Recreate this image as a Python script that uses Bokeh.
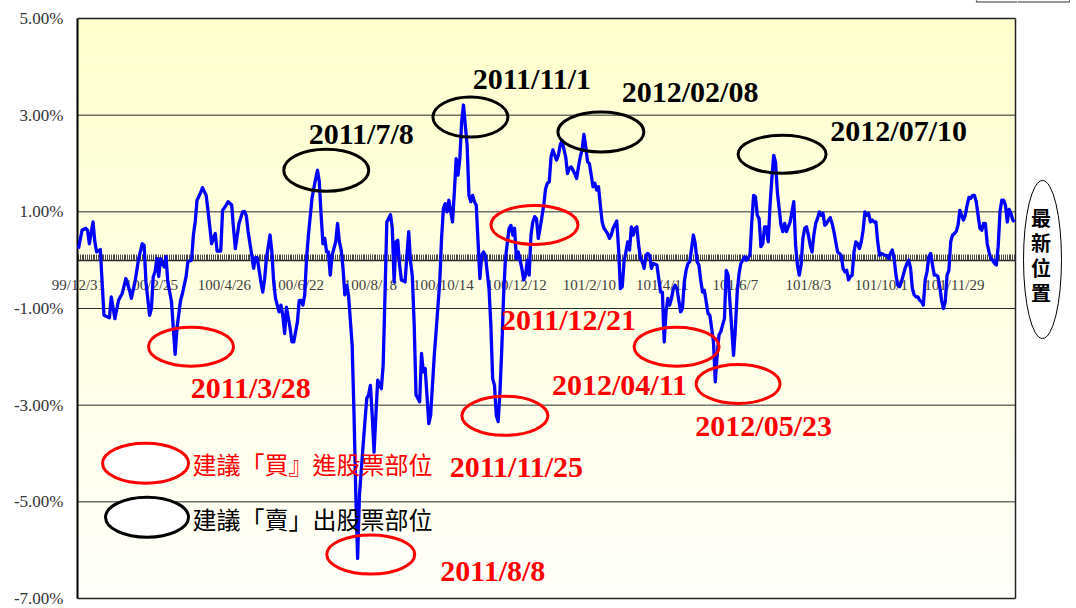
import numpy as np
from bokeh.plotting import figure
from bokeh.models import Range1d, FixedTicker, PrintfTickFormatter
from bokeh.layouts import row
from bokeh.embed import file_html
from bokeh.resources import INLINE
from bokeh.core.properties import value

# ---------------- data (trading-day index, spread in %) ----------------
day_index = [0, 2, 4, 5, 6, 8, 9, 10, 12, 14, 17, 18, 20, 22, 24, 26, 28, 29, 31, 33, 35, 36, 37, 39, 40, 41, 42, 43, 44, 45,
             47, 48, 49, 51, 52, 53, 54, 56, 57, 59, 60, 62, 63, 64, 65, 67, 68, 70, 71, 73, 74, 75, 76, 78, 79, 81, 82, 84, 85, 86,
             88, 90, 91, 92, 93, 95, 96, 97, 98, 100, 101, 102, 103, 105, 106, 107, 108, 110, 111, 112, 113, 114, 116, 117, 118, 120, 121, 122, 123, 124,
             125, 126, 128, 130, 131, 132, 133, 134, 135, 136, 137, 138, 139, 141, 142, 143, 144, 145, 146, 147, 148, 150, 151, 152, 153, 154, 156, 158, 159, 160,
             161, 162, 163, 164, 166, 167, 168, 169, 171, 172, 173, 174, 175, 176, 177, 179, 180, 181, 182, 183, 184, 185, 187, 188, 189, 190, 191, 192, 193, 195,
             196, 198, 199, 200, 201, 202, 203, 205, 206, 207, 208, 209, 210, 211, 213, 214, 215, 216, 217, 218, 219, 220, 221, 222, 223, 225, 226, 227, 228, 229,
             230, 231, 232, 233, 234, 236, 237, 238, 239, 240, 241, 242, 243, 244, 245, 246, 247, 248, 249, 250, 251, 252, 253, 255, 256, 257, 258, 259, 260, 262,
             263, 264, 265, 267, 268, 269, 270, 272, 273, 274, 275, 276, 277, 278, 279, 280, 281, 282, 283, 284, 285, 286, 287, 288, 290, 291, 292, 293, 295, 296,
             297, 298, 299, 300, 301, 302, 303, 304, 305, 306, 307, 308, 309, 310, 311, 312, 313, 314, 315, 317, 318, 319, 320, 321, 322, 323, 324, 325, 326, 327,
             328, 330, 331, 332, 333, 334, 335, 336, 337, 338, 339, 340, 341, 342, 343, 344, 345, 346, 347, 348, 349, 350, 351, 352, 353, 354, 355, 356, 357, 358,
             359, 360, 361, 362, 363, 364, 365, 366, 368, 369, 370, 371, 372, 373, 374, 375, 376, 377, 378, 379, 380, 381, 382, 383, 384, 385, 386, 387, 388, 390,
             391, 392, 393, 394, 395, 396, 397, 398, 399, 400, 401, 402, 403, 404, 405, 406, 407, 408, 409, 410, 411, 412, 413, 414, 415, 416, 417, 418, 419, 420,
             421, 422, 423, 424, 425, 426, 427, 428, 429, 430, 431, 432, 433, 434, 435, 436, 437, 438, 439, 440, 442, 443, 444, 445, 446, 447, 448, 449, 450, 451,
             452, 453, 454, 455, 456, 457, 458, 459, 460, 461, 462, 463, 464, 465, 466, 467, 468, 469, 470, 471, 472, 473, 474, 475, 476, 477, 478, 479, 480, 481,
             482, 483, 484, 485, 486, 487, 488, 489, 490, 491, 492, 493, 494, 495, 496, 497, 498, 499, 500, 501, 502, 503, 504, 505, 506, 507, 508, 509, 510, 511,
             512, 513]
spread_pct = [0.24, 0.62, 0.66, 0.62, 0.34, 0.79, 0.38, 0.17, 0.22, -1.14, -1.19, -0.76, -1.21, -0.83, -0.69, -0.38, -0.62, -0.79, -0.45, 0.03,
              0.34, 0.31, -0.45, -1.14, -1.0, -0.34, -0.24, 0.03, -0.34, 0.03, -0.14, 0.07, -0.45, -0.86, -1.41, -1.95, -1.41, -0.83, -0.69, -0.34,
              -0.03, 0.0, 0.52, 0.79, 1.24, 1.40, 1.50, 1.34, 1.03, 0.34, 0.46, 0.55, 0.19, 0.19, 1.03, 1.14, 1.21, 1.14, 0.66, 0.24,
              0.76, 1.0, 1.01, 0.92, 0.59, 0.10, -0.17, 0.05, 0.05, -0.45, -0.66, -0.41, 0.03, 0.52, 0.17, -0.45, -0.79, -1.07, -0.93, -1.14,
              -1.52, -0.97, -1.41, -1.69, -1.69, -1.28, -0.83, -0.83, -0.93, -0.72,
              0.03, 0.50, 1.28, 1.69, 1.86, 1.62, 0.93, 0.34, 0.45, 0.17, 0.17, -0.31, 0.10, 0.38, 0.76, 0.38, 0.21, -0.17, -0.72, -0.52,
              -0.72, -1.76, -3.14, -4.86, -6.17, -4.86, -3.83, -2.86, -2.79, -2.59,
              -3.21, -3.97, -3.21, -2.48, -2.66, -2.17, -0.72, 0.79, 0.94, 0.66, -0.45, 0.38, 0.41, -0.10, -0.41, -0.45, 0.10, 0.59, -0.03, -0.34,
              -1.34, -2.79, -2.93, -1.93, -2.31, -2.24, -2.79, -3.38, -3.21, -1.97,
              -1.48, -0.45, 0.45, 1.07, 1.17, 1.0, 1.24, 0.79, 1.41, 2.10, 1.76, 2.10, 2.86, 3.21, 2.38, 1.34, 1.21, 1.34, 1.21, 1.14,
              0.38, -0.38, 0.10, 0.17, 0.10, -0.59, -1.34, -2.45, -2.59, -3.21,
              -3.34, -2.72, -1.83, -0.72, 0.03, 0.66, 0.72, 0.52, 0.66, 0.03, 0.17, 0.0, -0.17, -0.41, -0.31, 0.0, -0.31, 0.52, 0.79, 0.90,
              0.86, 0.45, 0.66, 1.14, 1.48, 1.59, 1.62, 2.14, 2.28, 2.07,
              2.17, 2.38, 2.48, 2.14, 1.79, 1.90, 1.93, 1.79, 1.69, 1.93, 2.14, 2.28, 2.60, 2.34, 2.03, 2.00, 1.76, 1.52, 1.59, 1.45,
              1.52, 1.14, 0.79, 0.66, 0.55, 0.45, 0.52, 0.66, 0.81, 0.24,
              -0.59, -0.55, -0.03, 0.17, 0.38, 0.21, 0.69, 0.52, 0.66, 0.69, 0.31, 0.03, -0.03, -0.17, 0.10, 0.14, 0.10, -0.17, -0.07, -0.10,
              -0.38, -0.66, -0.66, -1.69, -1.07, -0.79, -0.93, -0.79, -0.59, -0.52,
              -0.59, -1.07, -1.0, -0.45, -0.21, -0.07, -0.03, 0.24, 0.52, 0.34, -0.03, -0.10, -0.41, -0.66, -0.62, -0.86, -1.10, -1.14, -1.41, -1.69,
              -2.52, -1.97, -1.55, -1.48, -1.34, -1.21, -0.21, -0.31, -0.86, -1.41,
              -1.97, -1.41, -0.66, -0.28, -0.07, 0.0, 0.07, 0.0, 0.10, 0.79, 1.34, 1.31, 0.93, 0.86, 0.28, 0.34, 0.69, 0.69, 0.38, 1.14,
              1.69, 2.17, 2.03, 1.41, 1.07, 0.72, 0.59, 0.76, 0.59, 0.79,
              1.0, 1.21, 0.31, -0.10, -0.31, -0.10, 0.45, 0.66, 0.69, 0.52, 0.31, 0.17, 0.52, 0.76, 0.86, 1.0, 0.93, 0.97, 0.72, 0.76,
              0.83, 0.88, 0.76, 0.59, 0.38, 0.17, 0.14, 0.10, -0.17, -0.24,
              -0.21, -0.41, -0.34, -0.31, 0.17, 0.38, 0.34, 0.24, 0.38, 0.62, 1.0, 0.93, 0.97, 0.79, 0.83, 0.79, 0.79, 0.38, 0.10, 0.14,
              0.10, 0.10, 0.03, 0.14, 0.21, 0.03, -0.31, -0.52, -0.55, -0.45,
              -0.31, -0.17, -0.07, 0.0, -0.17, -0.59, -0.72, -0.76, -0.76, -0.83, -0.86, -0.93, -0.41, -0.24, 0.07, 0.14, -0.10, -0.31, -0.31, -0.34,
              -0.55, -0.83, -1.0, -0.86, -0.31, -0.21, 0.38, 0.52, 0.55, 0.59,
              0.72, 1.03, 0.93, 0.83, 0.93, 1.14, 1.30, 1.28, 1.34, 1.34, 1.21, 0.93, 0.66, 0.62, 0.76, 0.76, 0.34, 0.17, 0.03, 0.0,
              -0.07, -0.10, 0.28, 1.0, 1.24, 1.24, 1.14, 0.79, 1.05, 0.97,
              0.83, 0.79]

N_DAYS = 514
tick_days = [0, 40, 80, 120, 160, 200, 240, 280, 320, 360, 400, 440, 480]
tick_labels = ["99/12/31", "100/2/25", "100/4/26", "100/6/22", "100/8/18", "100/10/14", "100/12/12",
               "101/2/10", "101/4/11", "101/6/7", "101/8/3", "101/10/1", "101/11/29"]
y_ticks = [5, 3, 1, -1, -3, -5, -7]
Y_MIN, Y_MAX = -7, 5

sell_dates = ["2011/7/8", "2011/11/1", "2012/02/08", "2012/07/10"]
buy_dates = ["2011/3/28", "2011/12/21", "2012/04/11", "2012/05/23", "2011/11/25", "2011/8/8"]
legend_texts = ["建議「買』進股票部位", "建議「賣」出股票部位"]
side_text = ["最", "新", "位", "置"]

# ---------------- annotation layout ----------------
sell_ell = dict(x=[135.8, 214.8, 286.3, 385.6], y=[1.86, 2.96, 2.65, 2.19], w=[85, 75, 86, 88], h=[42, 40, 40, 38])
sell_txt = dict(x=[155.0, 248.5, 335.2, 449.5], y=[2.63, 3.76, 3.50, 2.69])
buy_ell = dict(x=[61.7, 249.9, 327.8, 361.5, 233.7, 160.2], y=[-1.79, 0.73, -1.79, -2.56, -3.22, -6.09],
               w=[85, 87, 85, 84, 86, 88], h=[39, 39, 39, 39, 39, 39])
buy_txt = dict(x=[94.4, 268.5, 296.5, 375.5, 240.0, 227.1], y=[-2.63, -1.22, -2.57, -3.43, -4.26, -6.43])

SERIF = "Liberation Serif"
CJK = "Noto Sans CJK TC"
H = 607
W = 1017
W2 = 53
PX_X = 938 / N_DAYS          # pixels per trading day inside the plot box
PX_Y = 580 / (Y_MAX - Y_MIN)  # pixels per percent
X0, X1 = -0.5, N_DAYS - 0.5


def px_to_x(px):
    return X0 + (px - 77) / PX_X


def px_to_y(py):
    return Y_MAX - (py - 18) / PX_Y


# the frame covers the whole canvas so that the axis labels left of the plot box are not clipped
x_rng = Range1d(px_to_x(0), px_to_x(W))
y_rng = Range1d(px_to_y(H), px_to_y(0))

p = figure(width=W, height=H, x_range=x_rng, y_range=y_rng,
           toolbar_location=None, output_backend="svg", x_axis_location="below", y_axis_location="left",
           min_border_left=0, min_border_right=0, min_border_top=0, min_border_bottom=0)
p.grid.visible = False
p.outline_line_color = None
p.background_fill_color = "white"
p.border_fill_color = "white"

# background gradient inside the plot box (light yellow at top to near-white at bottom)
nb = 116
edges = np.linspace(Y_MAX, Y_MIN, nb + 1)
tfrac = np.linspace(0, 1, nb)
blue_ch = (204 + (250 - 204) * tfrac).astype(int)
cols = ["#ffff%02x" % b for b in blue_ch]
p.quad(left=X0, right=X1, top=edges[:-1], bottom=edges[1:], fill_color=cols, line_color=None, level="image")

# horizontal gridlines and plot-box border
grid_y = [t for t in y_ticks if Y_MIN < t < Y_MAX]
p.segment(x0=X0, y0=grid_y, x1=X1, y1=grid_y, line_color="#2a2a2a", line_width=1, level="underlay")
p.segment(x0=[X0, X1, X0], y0=[Y_MAX, Y_MAX, Y_MIN], x1=[X1, X1, X1], y1=[Y_MAX, Y_MIN, Y_MIN],
          line_color="#222222", line_width=1.5, level="underlay")

# small framed box cut by the top edge (left part)
p.segment(x0=[px_to_x(976), px_to_x(976)], y0=[px_to_y(-3), px_to_y(1.5)],
          x1=[px_to_x(976), px_to_x(W)], y1=[px_to_y(1.5), px_to_y(1.5)],
          line_color="#333333", line_width=1.2)

# y axis
yax = p.yaxis[0]
yax.fixed_location = X0
yax.bounds = (Y_MIN, Y_MAX)
yax.ticker = FixedTicker(ticks=y_ticks)
yax.formatter = PrintfTickFormatter(format="%.2f%%")
yax.major_label_text_font = SERIF
yax.major_label_text_font_size = "17px"
yax.major_label_text_color = "#333333"
yax.axis_line_width = 2
yax.axis_line_color = "black"
yax.major_tick_out = 0
yax.major_tick_in = 0
yax.minor_tick_line_color = None
yax.major_label_standoff = 14

# category axis crossing at 0 with a tick mark for every day
xax = p.xaxis[0]
xax.fixed_location = 0
xax.bounds = (X0, X1)
xax.ticker = FixedTicker(ticks=tick_days, minor_ticks=list(range(N_DAYS)))
xax.major_label_overrides = {d: lab for d, lab in zip(tick_days, tick_labels)}
xax.axis_line_color = "#222222"
xax.axis_line_width = 1.5
xax.major_tick_in = 6
xax.major_tick_out = 0
xax.minor_tick_in = 6
xax.minor_tick_out = 0
xax.major_tick_line_color = "#4a4a4a"
xax.minor_tick_line_color = "#4a4a4a"
xax.major_tick_line_width = 1
xax.minor_tick_line_width = 1
xax.major_label_text_font = SERIF
xax.major_label_text_font_size = "15px"
xax.major_label_text_color = "#404040"
xax.major_label_standoff = 17

# main series (drawn above the axis band)
p.line(day_index, spread_pct, line_color="#0000FF", line_width=3.3, line_join="round", level="annotation")

# sell (black) and buy (red) ellipses + dates
p.ellipse(x=sell_ell["x"], y=sell_ell["y"], width=sell_ell["w"], height=sell_ell["h"],
          width_units="screen", height_units="screen", fill_color=None, line_color="black", line_width=3,
          level="annotation")
p.ellipse(x=buy_ell["x"], y=buy_ell["y"], width=buy_ell["w"], height=buy_ell["h"],
          width_units="screen", height_units="screen", fill_color=None, line_color="#FF0000", line_width=3,
          level="annotation")
p.text(x=sell_txt["x"], y=sell_txt["y"], text=sell_dates, text_font=value(SERIF), text_font_style="bold",
       text_font_size="30px", text_color="black", text_align="center", text_baseline="middle", level="annotation")
p.text(x=buy_txt["x"], y=buy_txt["y"], text=buy_dates, text_font=value(SERIF), text_font_style="bold",
       text_font_size="30px", text_color="#FF0000", text_align="center", text_baseline="middle", level="annotation")

# legend
p.ellipse(x=[36.8], y=[-4.20], width=86, height=40, width_units="screen", height_units="screen",
          fill_color="white", line_color="#FF0000", line_width=3, level="annotation")
p.ellipse(x=[37.6], y=[-5.32], width=83, height=40, width_units="screen", height_units="screen",
          fill_color="white", line_color="black", line_width=3, level="annotation")
p.text(x=[62.5], y=[-4.20], text=[legend_texts[0]], text_font=value(CJK), text_font_size="24px",
       text_color="#FF0000", text_align="left", text_baseline="middle", level="annotation")
p.text(x=[62.5], y=[-5.34], text=[legend_texts[1]], text_font=value(CJK), text_font_size="24px",
       text_color="black", text_align="left", text_baseline="middle", level="annotation")

# right side "最新位置" marker (screen-pixel coordinates, y measured from bottom)
p2 = figure(width=W2, height=H, x_range=Range1d(0, W2), y_range=Range1d(0, H), toolbar_location=None,
            output_backend="svg", x_axis_location=None, y_axis_location=None, min_border=0,
            min_border_left=0, min_border_right=0, min_border_top=0, min_border_bottom=0)
p2.grid.visible = False
p2.outline_line_color = None
p2.background_fill_color = "white"
p2.border_fill_color = "white"
p2.ellipse(x=[25], y=[H - 259], width=[38], height=[158], fill_color=None, line_color="black", line_width=1)
p2.text(x=[23.5] * 4, y=[H - 217, H - 242, H - 267, H - 292], text=side_text, text_font=value(CJK),
        text_font_style="bold", text_font_size="20px", text_color="black", text_align="center",
        text_baseline="middle")
# small framed box cut by the top edge (right part)
p2.segment(x0=[0, 52], y0=[H - 1.5, H - 1.5], x1=[52, 52], y1=[H - 1.5, H + 3],
           line_color="#333333", line_width=1.2)

layout = row(p, p2)
open("out.html", "w").write(file_html(layout, INLINE))
